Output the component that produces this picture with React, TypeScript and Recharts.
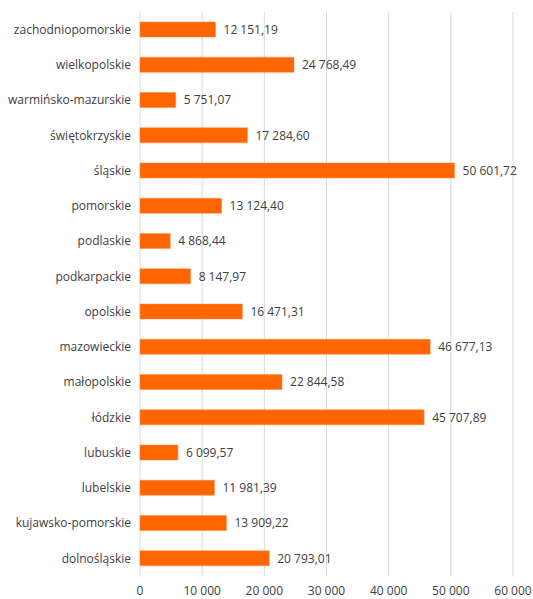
import { Bar, BarChart, CartesianGrid, LabelList, XAxis, YAxis } from "recharts"

const regions = [
    "zachodniopomorskie",
    "wielkopolskie",
    "warmińsko-mazurskie",
    "świętokrzyskie",
    "śląskie",
    "pomorskie",
    "podlaskie",
    "podkarpackie",
    "opolskie",
    "mazowieckie",
    "małopolskie",
    "łódzkie",
    "lubuskie",
    "lubelskie",
    "kujawsko-pomorskie",
    "dolnośląskie",
]

const values = [
    12151.19, 24768.49, 5751.07, 17284.6, 50601.72, 13124.4, 4868.44, 8147.97,
    16471.31, 46677.13, 22844.58, 45707.89, 6099.57, 11981.39, 13909.22, 20793.01,
]

const xTicks = [0, 10000, 20000, 30000, 40000, 50000, 60000]

const data = regions.map((name, i) => ({ name, value: values[i] }))

const groupThousands = (s: string) => s.replace(/\B(?=(\d{3})+(?!\d))/g, "\u00a0")

const formatValue = (v: number) => {
    const [int, dec] = v.toFixed(2).split(".")
    return `${groupThousands(int)},${dec}`
}

const font = "'Open Sans', 'Noto Sans', sans-serif"

export default function App() {
    return (
        <div style={{ position: "absolute", left: 0, top: 0, background: "#fff" }}>
            <BarChart
                width={533}
                height={599}
                data={data}
                layout="vertical"
                margin={{ top: 12, right: 20, bottom: 0, left: 0 }}
                barSize={15}
            >
                <CartesianGrid horizontal={false} stroke="#d9d9d9" />
                <XAxis
                    type="number"
                    domain={[0, 60000]}
                    ticks={xTicks}
                    tickFormatter={(v) => groupThousands(String(v))}
                    axisLine={false}
                    tickLine={false}
                    tickMargin={4}
                    height={23}
                    tick={{ fill: "#404040", fontSize: 12, fontFamily: font }}
                />
                <YAxis
                    type="category"
                    dataKey="name"
                    width={140}
                    axisLine={false}
                    tickLine={false}
                    tickMargin={3}
                    interval={0}
                    tick={{ fill: "#404040", fontSize: 12, fontFamily: font }}
                />
                <Bar dataKey="value" fill="#ff6600" stroke="#ff8c40" strokeWidth={0.5} isAnimationActive={false}>
                    <LabelList
                        dataKey="value"
                        position="right"
                        offset={8}
                        formatter={(v: number) => formatValue(v)}
                        style={{ fill: "#404040", fontSize: 12, fontFamily: font }}
                    />
                </Bar>
            </BarChart>
        </div>
    )
}
